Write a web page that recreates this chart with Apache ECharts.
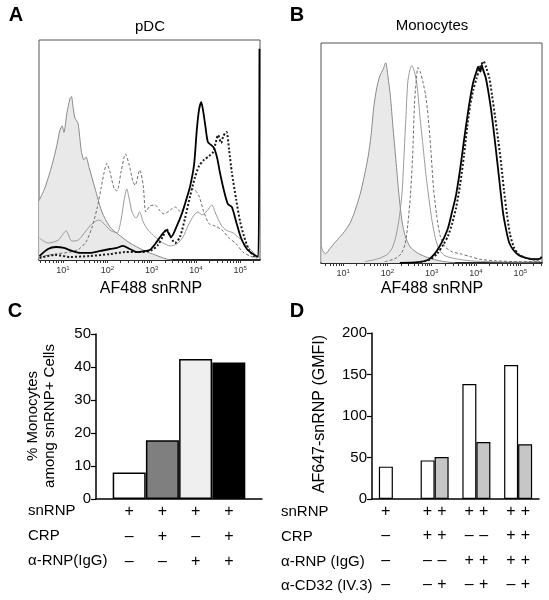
<!DOCTYPE html>
<html><head><meta charset="utf-8">
<script src="https://cdn.jsdelivr.net/npm/echarts@6/dist/echarts.min.js"></script>
<style>html,body{margin:0;padding:0;background:#fff}#c{width:549px;height:600px}</style>
</head><body><div id="c"></div>
<script>
// ---------- DATA ----------
// Panels A/B: [log10 fluorescence, % of max count]
const decadeLabels = [1, 2, 3, 4, 5];

const pdcControl = [[0.46,27],[0.59,32.7],[0.75,43],[0.86,52],[0.93,59],[0.98,61],[1.02,58],[1.09,67],[1.16,73.6],[1.19,74.3],[1.23,69],[1.27,64.5],[1.34,62],[1.41,50],[1.47,45.5],[1.52,46.8],[1.59,42],[1.72,32.7],[1.88,21.8],[2.06,15],[2.24,11.8],[2.51,7.7],[2.81,4.5],[3.08,2.3],[3.33,0.5],[3.46,0]];
const pdcGraySolid = [[0.47,10],[0.66,7.7],[0.89,9],[1.07,13.2],[1.2,8.6],[1.34,9],[1.5,12.7],[1.65,16.4],[1.81,18.2],[1.93,16.4],[2.06,13.6],[2.22,12.3],[2.31,18.2],[2.38,27.3],[2.44,32.3],[2.49,28.2],[2.56,21.8],[2.65,19],[2.73,21.8],[2.81,17.3],[2.92,13.6],[3.08,10.5],[3.26,7.7],[3.42,6.4],[3.57,7.3],[3.71,10.5],[3.82,15.5],[3.96,20.5],[4.05,21.8],[4.14,20.5],[4.25,22.3],[4.36,25],[4.45,20.9],[4.57,15.9],[4.68,13.6],[4.84,12.3],[5.0,9.5],[5.15,6.4],[5.29,3.6],[5.38,0.9]];
const pdcGrayDash = [[0.47,1.4],[0.82,2.7],[1.16,3.6],[1.36,5],[1.52,8.2],[1.65,14.5],[1.77,23.6],[1.86,32.7],[1.93,40],[1.99,44],[2.06,40],[2.15,32.7],[2.22,31.4],[2.31,40],[2.41,48.2],[2.49,43.6],[2.58,35.5],[2.63,34],[2.73,40.9],[2.81,34],[2.87,21.8],[2.96,24.5],[3.08,25],[3.19,22.3],[3.28,20.9],[3.42,22.7],[3.53,24.1],[3.66,21.8],[3.78,27.3],[3.89,32.7],[3.98,31.8],[4.07,29.1],[4.18,21.8],[4.3,16.4],[4.43,15.5],[4.59,13.6],[4.75,10],[4.91,7.3],[5.06,3.6],[5.22,1.8],[5.36,0.9]];
const pdcBlackSolid = [[0.47,1.8],[0.66,5],[0.84,5.9],[1.02,5.5],[1.2,4.1],[1.38,3.2],[1.61,3.2],[1.84,4.1],[2.06,5],[2.22,5.5],[2.35,6.4],[2.51,5],[2.67,3.6],[2.85,4.1],[2.96,4.5],[3.08,7.3],[3.21,10.9],[3.33,13.6],[3.44,10.5],[3.57,15.5],[3.69,21.4],[3.78,27.3],[3.87,33.6],[3.96,43.6],[4.02,59],[4.07,68.2],[4.12,71.8],[4.16,68.2],[4.21,61.4],[4.27,53.6],[4.34,52.3],[4.41,50.9],[4.48,46.4],[4.54,40],[4.63,31.8],[4.72,25.5],[4.81,24.1],[4.91,17.3],[5.02,10],[5.15,5],[5.29,2.7],[5.36,1.8],[5.41,1.4],[5.435,96]];
const pdcBlackDot = [[0.47,0.9],[0.82,2.3],[1.16,1.4],[1.61,1.8],[2.06,2.7],[2.4,3.6],[2.74,3.6],[3.01,4.5],[3.14,6.8],[3.26,10.9],[3.34,14.1],[3.42,10.9],[3.53,7.7],[3.64,10.5],[3.75,18.6],[3.87,29.1],[3.98,37.7],[4.07,42.7],[4.18,45.5],[4.3,47.3],[4.39,49.1],[4.45,53.6],[4.5,56.8],[4.57,53.2],[4.62,56.4],[4.69,58.2],[4.75,50],[4.81,40],[4.91,27.3],[5.0,17.3],[5.09,10.5],[5.2,4.5],[5.31,1.8],[5.38,0.9]];

const monoControl = [[0.51,7.4],[0.54,5.6],[0.6,4.2],[0.7,6.5],[0.83,9.7],[0.99,13.3],[1.15,17.9],[1.26,23.3],[1.38,31],[1.47,38.8],[1.56,47.9],[1.63,57.9],[1.69,70.6],[1.76,79.7],[1.83,85.1],[1.9,87.9],[1.96,91],[2.01,85.1],[2.07,75.1],[2.12,62.9],[2.19,47],[2.26,31],[2.33,18.8],[2.4,12.4],[2.51,7.4],[2.67,4.7],[2.85,2.9],[3.07,1.5],[3.3,0.6],[3.53,0.1]];
const monoGraySolid = [[1.49,0.6],[1.79,1.95],[1.99,3.8],[2.1,6.5],[2.19,12],[2.27,21],[2.33,32],[2.37,47],[2.42,67.4],[2.46,82.4],[2.51,87.9],[2.55,89.7],[2.61,87],[2.67,80.6],[2.73,67.4],[2.8,53.8],[2.87,40.1],[2.94,28.8],[3.01,18.8],[3.08,11.5],[3.17,6],[3.3,3.3],[3.53,1.95],[3.87,1],[4.32,0.6],[5.0,0.4],[5.45,0.6]];
const monoGrayDash = [[1.94,0.6],[2.17,1.95],[2.31,4.2],[2.4,8.8],[2.46,17.4],[2.52,31],[2.57,49.2],[2.61,71.9],[2.66,85.1],[2.69,88.8],[2.74,87],[2.8,82.4],[2.86,76.5],[2.92,66.5],[2.98,51.5],[3.04,34.2],[3.11,21.9],[3.19,12.4],[3.3,7.4],[3.46,5.1],[3.64,4.2],[3.87,2.9],[4.09,1.7],[4.43,1],[5.0,0.6],[5.45,0.6]];
const monoBlackSolid = [[2.28,0.1],[2.69,0.4],[2.92,1.5],[3.05,3.8],[3.16,6.9],[3.28,11.5],[3.37,16],[3.46,23.3],[3.55,31],[3.64,42.4],[3.73,56],[3.8,66],[3.87,75.1],[3.94,82.4],[4.01,87],[4.05,89.2],[4.1,87],[4.13,90.1],[4.16,87.9],[4.22,84.2],[4.27,78.8],[4.34,69.7],[4.41,58.3],[4.48,46],[4.55,33.3],[4.61,22.9],[4.68,15.1],[4.75,9.2],[4.84,6],[4.95,3.8],[5.11,2.4],[5.29,1.7],[5.45,1.95],[5.48,2.9]];
const monoBlackDot = [[2.74,0.4],[2.96,1.5],[3.12,4.2],[3.26,8.3],[3.37,12.4],[3.46,17.9],[3.55,25.1],[3.64,35.5],[3.73,49.2],[3.8,61.9],[3.87,71.9],[3.94,78.8],[4.01,83.8],[4.07,87.9],[4.12,90.1],[4.17,91.7],[4.23,88.8],[4.3,84.2],[4.36,76.5],[4.43,66.5],[4.5,56],[4.57,44.7],[4.63,33.3],[4.7,21.9],[4.77,12.9],[4.86,6.9],[4.97,3.8],[5.11,2.4],[5.29,1.7],[5.45,1.5]];

// Panel C
const cValues = [8, 17.8, 42.4, 41.4];
const cSnRNP = ['+', '+', '+', '+'];
const cCRP = ['–', '+', '–', '+'];
const cAntiRNP = ['–', '–', '+', '+'];

// Panel D (groups; first value without α-CD32, second with α-CD32)
const dGroups = ['g1', 'g2', 'g3', 'g4'];
const dNoCD32 = [39, 46.5, 138.5, 161.5];
const dWithCD32 = [null, 50.6, 68.7, 66];
const dSnRNP = [['+', ''], ['+', '+'], ['+', '+'], ['+', '+']];
const dCRP = [['–', ''], ['+', '+'], ['–', '–'], ['+', '+']];
const dAntiRNP = [['–', ''], ['–', '–'], ['+', '+'], ['+', '+']];
const dAntiCD32 = [['–', ''], ['–', '+'], ['–', '+'], ['–', '+']];

// ---------- CHART ----------
const FONT = '"Liberation Sans", Arial, Helvetica, sans-serif';
const chart = echarts.init(document.getElementById('c'), null, {renderer: 'canvas', width: 549, height: 600});

function logTicks(min, max) {
  const t = [];
  for (let n = 0; n <= 5; n++) for (let k = 1; k <= 9; k++) {
    const v = n + Math.log10(k);
    if (v >= min && v <= max) t.push(v);
  }
  return t;
}
function flowX(gridIndex, min, max) {
  return {
    type: 'value', gridIndex, min, max,
    axisLine: {show: true, onZero: false, lineStyle: {color: '#000', width: 1.6}},
    axisTick: {show: true, customValues: logTicks(min, max), length: 3, lineStyle: {color: '#333', width: 1}},
    axisLabel: {
      customValues: decadeLabels, margin: 5,
      formatter: v => '{b|10}{s|' + v + '}',
      rich: {
        b: {fontSize: 9, color: '#333', fontFamily: FONT, lineHeight: 12},
        s: {fontSize: 6, color: '#333', fontFamily: FONT, lineHeight: 12, verticalAlign: 'top'}
      }
    },
    splitLine: {show: false}
  };
}
function flowY(gridIndex) {
  return {type: 'value', gridIndex, min: 0, max: 100, show: false, splitLine: {show: false}};
}
function flowLine(data, idx, color, width, type, area, z) {
  const s = {
    type: 'line', xAxisIndex: idx, yAxisIndex: idx, data, showSymbol: false, symbol: 'none',
    smooth: 0.25, lineStyle: {color, width, type}, z: z, silent: true
  };
  if (area) s.areaStyle = {color: area, opacity: 1};
  return s;
}
function txt(text, x, y, font, align, vAlign, extra) {
  return Object.assign({
    type: 'text', x, y, silent: true,
    style: {text, font, fill: '#000', align: align, verticalAlign: vAlign, textAlign: align, textVerticalAlign: vAlign}
  }, extra || {});
}

const cFills = ['#ffffff', '#7f7f7f', '#efefef', '#000000'];
const dRows = [dSnRNP, dCRP, dAntiRNP, dAntiCD32];

const option = {
  animation: false,
  backgroundColor: '#fff',
  textStyle: {fontFamily: FONT},
  grid: [
    {left: 39, top: 40, width: 221, height: 220, show: true, borderColor: '#555', borderWidth: 1, backgroundColor: 'transparent'},
    {left: 321, top: 43, width: 221, height: 220, show: true, borderColor: '#555', borderWidth: 1, backgroundColor: 'transparent'},
    {left: 96, top: 334, width: 166, height: 165},
    {left: 372, top: 333, width: 167, height: 166}
  ],
  xAxis: [
    flowX(0, 0.458, 5.447),
    flowX(1, 0.5, 5.49),
    {
      type: 'value', gridIndex: 2, min: 0, max: 5,
      axisLine: {show: true, onZero: false, lineStyle: {color: '#000', width: 1.5}},
      axisTick: {show: false},
      splitLine: {show: false},
      axisLabel: {
        customValues: [1, 2, 3, 4], margin: 0, fontSize: 16, lineHeight: 25, color: '#000', fontFamily: FONT,
        formatter: v => [cSnRNP[v - 1], cCRP[v - 1], cAntiRNP[v - 1]].join('\n')
      }
    },
    {
      type: 'category', gridIndex: 3, data: dGroups,
      axisLine: {show: true, onZero: false, lineStyle: {color: '#000', width: 1.5}},
      axisTick: {show: false},
      axisLabel: {
        interval: 0, margin: 0,
        formatter: (val, idx) => dRows.map(r => r[idx].map(s => '{c|' + (s || ' ') + '}').join('')).join('\n'),
        rich: {c: {width: 14.5, align: 'center', fontSize: 16, lineHeight: 24.5, color: '#000', fontFamily: FONT}}
      }
    }
  ],
  yAxis: [
    flowY(0), flowY(1),
    {
      type: 'value', gridIndex: 2, min: 0, max: 50, interval: 10,
      axisLine: {show: true, lineStyle: {color: '#000', width: 1.5}},
      axisTick: {show: true, length: 5, lineStyle: {color: '#000', width: 1.2}},
      axisLabel: {fontSize: 15, color: '#000', margin: 5, fontFamily: FONT},
      splitLine: {show: false}
    },
    {
      type: 'value', gridIndex: 3, min: 0, max: 200, interval: 50,
      axisLine: {show: true, lineStyle: {color: '#000', width: 1.5}},
      axisTick: {show: true, length: 5, lineStyle: {color: '#000', width: 1.2}},
      axisLabel: {fontSize: 15, color: '#000', margin: 5, fontFamily: FONT},
      splitLine: {show: false}
    }
  ],
  series: [
    flowLine(pdcControl, 0, '#8a8a8a', 1, 'solid', '#e9e9e9', 1),
    flowLine(pdcGraySolid, 0, '#9a9a9a', 1, 'solid', null, 2),
    flowLine(pdcGrayDash, 0, '#6e6e6e', 1, [3, 2], null, 3),
    flowLine(pdcBlackDot, 0, '#1a1a1a', 2, [2, 2], null, 4),
    flowLine(pdcBlackSolid, 0, '#000', 1.8, 'solid', null, 5),
    flowLine(monoControl, 1, '#8a8a8a', 1, 'solid', '#e9e9e9', 1),
    flowLine(monoGraySolid, 1, '#9a9a9a', 1, 'solid', null, 2),
    flowLine(monoGrayDash, 1, '#6e6e6e', 1, [3, 2], null, 3),
    flowLine(monoBlackSolid, 1, '#000', 1.8, 'solid', null, 4),
    flowLine(monoBlackDot, 1, '#1a1a1a', 2, [2, 2], null, 5),
    {
      type: 'bar', xAxisIndex: 2, yAxisIndex: 2, barWidth: 33, silent: true,
      data: cValues.map((v, i) => ({value: [i + 1, v], itemStyle: {color: cFills[i]}})),
      itemStyle: {borderColor: '#000', borderWidth: 1.5}
    },
    {
      type: 'bar', xAxisIndex: 3, yAxisIndex: 3, barWidth: 14, barGap: '0%', silent: true,
      data: dNoCD32,
      itemStyle: {color: '#ffffff', borderColor: '#000', borderWidth: 1.2}
    },
    {
      type: 'bar', xAxisIndex: 3, yAxisIndex: 3, barWidth: 14, barGap: '0%', silent: true,
      data: dWithCD32.map(v => v == null ? '-' : v),
      itemStyle: {color: '#c6c6c6', borderColor: '#000', borderWidth: 1.2}
    }
  ],
  graphic: [
    txt('A', 16, 15, 'bold 20px ' + FONT, 'center', 'middle'),
    txt('B', 297, 15, 'bold 20px ' + FONT, 'center', 'middle'),
    txt('C', 15, 311, 'bold 20px ' + FONT, 'center', 'middle'),
    txt('D', 297, 311, 'bold 20px ' + FONT, 'center', 'middle'),
    txt('pDC', 150, 27, '15px ' + FONT, 'center', 'middle'),
    txt('Monocytes', 432, 26, '15px ' + FONT, 'center', 'middle'),
    txt('AF488 snRNP', 151, 289, '16px ' + FONT, 'center', 'middle'),
    txt('AF488 snRNP', 432, 289, '16px ' + FONT, 'center', 'middle'),
    txt('% Monocytes\namong snRNP+ Cells', 41.5, 416, '15px ' + FONT, 'center', 'middle', {rotation: Math.PI / 2, style: {text: '% Monocytes\namong snRNP+ Cells', font: '15px ' + FONT, fill: '#000', align: 'center', verticalAlign: 'middle', textAlign: 'center', textVerticalAlign: 'middle', lineHeight: 17}}),
    txt('AF647-snRNP (GMFI)', 320, 414, '16px ' + FONT, 'center', 'middle', {rotation: Math.PI / 2}),
    txt('snRNP', 28, 511, '15px ' + FONT, 'left', 'middle'),
    txt('CRP', 28, 536, '15px ' + FONT, 'left', 'middle'),
    txt('α-RNP(IgG)', 28, 561, '15px ' + FONT, 'left', 'middle'),
    txt('snRNP', 281, 511.5, '15px ' + FONT, 'left', 'middle'),
    txt('CRP', 281, 536.5, '15px ' + FONT, 'left', 'middle'),
    txt('α-RNP (IgG)', 281, 561.5, '15px ' + FONT, 'left', 'middle'),
    txt('α-CD32 (IV.3)', 281, 585.5, '15px ' + FONT, 'left', 'middle')
  ]
};
chart.setOption(option);
</script>
</body></html>
